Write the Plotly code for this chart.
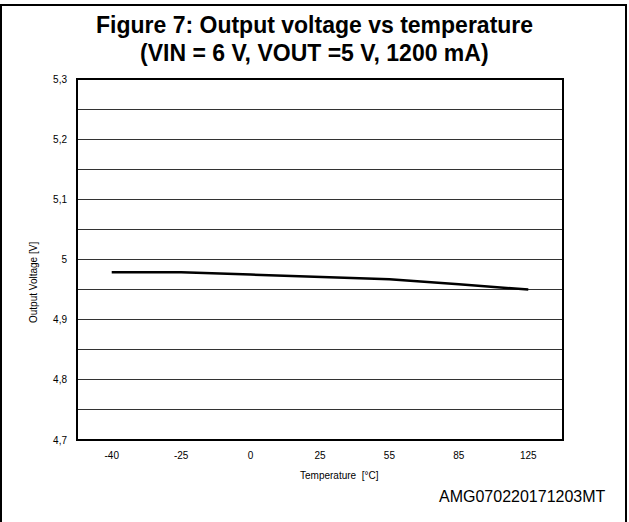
import plotly.graph_objects as go

temps = ["-40", "-25", "0", "25", "55", "85", "125"]
vout = [4.979, 4.979, 4.975, 4.971, 4.967, 4.959, 4.950]
ytick_vals = [4.7, 4.8, 4.9, 5.0, 5.1, 5.2, 5.3]
ytick_text = ["4,7", "4,8", "4,9", "5", "5,1", "5,2", "5,3"]

W, H = 629, 522
L, R, T, B = 77, 563, 79, 440

def px(x):
    return (x - L) / (R - L)

def py(y):
    return (B - y) / (B - T)

fig = go.Figure()
fig.add_trace(go.Scatter(x=temps, y=vout, mode="lines",
                         line=dict(color="black", width=2.5),
                         showlegend=False, hoverinfo="skip"))

font_main = "Liberation Sans, Arial, sans-serif"

fig.update_layout(
    width=W, height=H,
    margin=dict(l=L, r=W - R, t=T, b=H - B, pad=0),
    paper_bgcolor="white", plot_bgcolor="white",
    font=dict(family=font_main, color="black", size=10),
    xaxis=dict(type="category", range=[-0.5, 6.5], showgrid=False,
               zeroline=False, showline=False, ticks="",
               tickfont=dict(size=10), ticklabelstandoff=8),
    yaxis=dict(range=[4.7, 5.3], tickvals=ytick_vals, ticktext=ytick_text,
               showgrid=True, gridcolor="#333333", gridwidth=1,
               minor=dict(dtick=0.05, tick0=4.7, showgrid=True,
                          gridcolor="#333333", gridwidth=1),
               zeroline=False, showline=False, ticks="",
               tickfont=dict(size=10), ticklabelstandoff=9),
)

# plot frame
fig.add_shape(type="rect", xref="paper", yref="paper", x0=0, x1=1, y0=0, y1=1,
              line=dict(color="black", width=2))
# outer frame
fig.add_shape(type="rect", xref="paper", yref="paper",
              x0=px(1), x1=px(626), y0=py(540), y1=py(5),
              line=dict(color="black", width=2), layer="below")

title_font = dict(size=23, family="Liberation Sans, Arial, sans-serif")
anns = [
    dict(text="<b>Figure 7: Output voltage vs temperature</b>", x=px(314), y=py(25),
         font=title_font),
    dict(text="<b>(VIN = 6 V, VOUT =5 V, 1200 mA)</b>", x=px(314), y=py(53),
         font=title_font),
    dict(text="Output Voltage [V]", x=px(33), y=py(283), textangle=-90,
         font=dict(size=10)),
    dict(text="Temperature  [°C]", x=px(339), y=py(475), font=dict(size=10)),
    dict(text="AMG070220171203MT", x=px(522), y=py(496), font=dict(size=16)),
]
for a in anns:
    fig.add_annotation(xref="paper", yref="paper", showarrow=False,
                       xanchor="center", yanchor="middle", **a)

fig.write_html("out.html",
               config={"displayModeBar": False, "staticPlot": True},
               post_script="document.body.style.margin='0';document.body.style.overflow='hidden';")
